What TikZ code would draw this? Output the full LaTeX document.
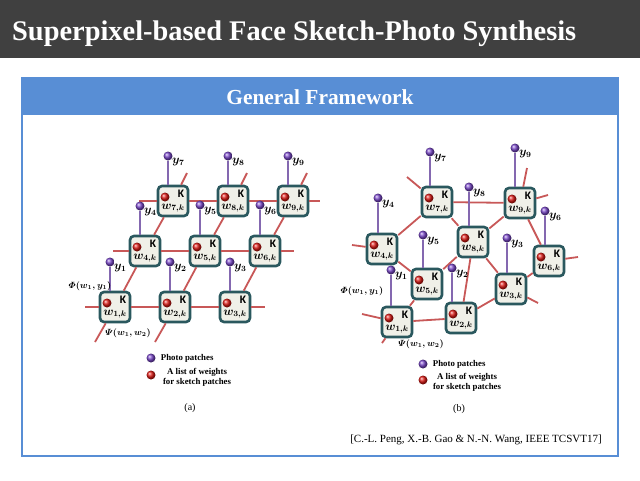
\documentclass[tikz,border=0pt]{standalone}
\usepackage{amsmath,amssymb}
\usepackage{fontspec}
\setmainfont{Liberation Serif}
\setsansfont{Carlito}
\usepackage{xcolor}
\usetikzlibrary{calc,positioning}
\definecolor{barc}{RGB}{64,64,64}
\definecolor{bluec}{RGB}{88,142,213}
\definecolor{boxc}{RGB}{42,88,94}
\definecolor{boxf}{RGB}{240,240,232}
\definecolor{redl}{RGB}{200,88,88}
\definecolor{purl}{RGB}{132,104,176}
\definecolor{purb}{RGB}{120,70,200}
\definecolor{redb}{RGB}{220,25,20}

\begin{document}
\begin{tikzpicture}[x=1pt,y=-1pt,
 rb/.style={circle,shade,ball color=redb,minimum size=9pt,inner sep=0pt},
 wbox/.style={draw=boxc,line width=2.6pt,fill=boxf,rounded corners=4pt,minimum size=30pt,inner sep=0pt,align=center,
  font=\fontsize{11.5}{12}\selectfont,label={[rb,xshift=-8pt,yshift=4pt]center:{}}},
 link/.style={draw=redl,line width=1.8pt},
 pinl/.style={draw=purl,line width=2pt},
 pb/.style={circle,shade,ball color=purb,minimum size=9pt,inner sep=0pt},
 lab/.style={inner sep=0.5pt,font=\fontsize{12}{13}\selectfont},
 fn/.style={inner sep=0pt,font=\fontsize{9}{10}\selectfont},
 leg/.style={inner sep=0pt,align=center,font=\fontsize{8.8}{10}\selectfont\bfseries}]
\fill[white](0,0)rectangle(640,480);
\useasboundingbox(0,0)rectangle(640,480);
% header and panel
\fill[barc](0,0)rectangle(640,58);
\node[anchor=base west,inner sep=0pt,text=white,font=\fontsize{28.4}{30}\selectfont\bfseries](title)at(12,40){Superpixel-based Face Sketch-Photo Synthesis};
\fill[bluec](22,78)rectangle(618,115);\draw[bluec,line width=1.5pt](22,78)rectangle(618,456);
\node[text=white,font=\fontsize{21.4}{23}\selectfont\bfseries](gf)at(320,97){General Framework};
% (a) grid
\node[wbox](a1)at(115,307){\hspace*{16pt}\textsf{\bfseries K}\\$\boldsymbol{w_{1,k}}$};
\node[wbox](a2)at(175,307){\hspace*{16pt}\textsf{\bfseries K}\\$\boldsymbol{w_{2,k}}$};
\node[wbox](a3)at(235,307){\hspace*{16pt}\textsf{\bfseries K}\\$\boldsymbol{w_{3,k}}$};
\node[wbox](a4)at(145,251){\hspace*{16pt}\textsf{\bfseries K}\\$\boldsymbol{w_{4,k}}$};
\node[wbox](a5)at(205,251){\hspace*{16pt}\textsf{\bfseries K}\\$\boldsymbol{w_{5,k}}$};
\node[wbox](a6)at(265,251){\hspace*{16pt}\textsf{\bfseries K}\\$\boldsymbol{w_{6,k}}$};
\node[wbox](a7)at(173,201){\hspace*{16pt}\textsf{\bfseries K}\\$\boldsymbol{w_{7,k}}$};
\node[wbox](a8)at(233,201){\hspace*{16pt}\textsf{\bfseries K}\\$\boldsymbol{w_{8,k}}$};
\node[wbox](a9)at(293,201){\hspace*{16pt}\textsf{\bfseries K}\\$\boldsymbol{w_{9,k}}$};
\coordinate(ar1s)at(85,307);\coordinate(ar1e)at(265,307);
\coordinate(ar2s)at(113,251);\coordinate(ar2e)at(294,251);
\coordinate(ar3s)at(139,201);\coordinate(ar3e)at(320,201);
\coordinate(ac1s)at(95,342);\coordinate(ac1e)at(187,173);
\coordinate(ac2s)at(155,342);\coordinate(ac2e)at(247,173);
\coordinate(ac3e)at(307,173);
\draw[link](ar1s)--(a1)--(a2)--(a3)--(ar1e);
\draw[link](ar2s)--(a4)--(a5)--(a6)--(ar2e);
\draw[link](ar3s)--(a7)--(a8)--(a9)--(ar3e);
\draw[link](ac1s)--(a1)--(a4)--(a7)--(ac1e);
\draw[link](ac2s)--(a2)--(a5)--(a8)--(ac2e);
\draw[link](a3)--(a6)--(a9)--(ac3e);
% (a) photo patches
\node[pb](p1)at(110,262){};\node[pb](p2)at(170,262){};\node[pb](p3)at(230,262){};
\node[pb](p4)at(140,206){};\node[pb](p5)at(200,205){};\node[pb](p6)at(260,205){};
\node[pb](p7)at(168,156){};\node[pb](p8)at(228,156){};\node[pb](p9)at(288,156){};
\draw[pinl](p1)--(p1|-a1.north);\draw[pinl](p2)--(p2|-a2.north);\draw[pinl](p3)--(p3|-a3.north);
\draw[pinl](p4)--(p4|-a4.north);\draw[pinl](p5)--(p5|-a5.north);\draw[pinl](p6)--(p6|-a6.north);
\draw[pinl](p7)--(p7|-a7.north);\draw[pinl](p8)--(p8|-a8.north);\draw[pinl](p9)--(p9|-a9.north);
\node[lab,below right=-2pt and 0pt of p1](ly1){$\boldsymbol{y_1}$};\node[lab,below right=-2pt and 0pt of p2](ly2){$\boldsymbol{y_2}$};
\node[lab,below right=-2pt and 0pt of p3](ly3){$\boldsymbol{y_3}$};\node[lab,below right=-2pt and 0pt of p4](ly4){$\boldsymbol{y_4}$};
\node[lab,below right=-2pt and 0pt of p5](ly5){$\boldsymbol{y_5}$};\node[lab,below right=-2pt and 0pt of p6](ly6){$\boldsymbol{y_6}$};
\node[lab,below right=-2pt and 0pt of p7](ly7){$\boldsymbol{y_7}$};\node[lab,below right=-2pt and 0pt of p8](ly8){$\boldsymbol{y_8}$};
\node[lab,below right=-2pt and 0pt of p9](ly9){$\boldsymbol{y_9}$};
\node[fn](aphi)at(90,286){$\boldsymbol{\varPhi(w_1,y_1)}$};
\node[fn](apsi)at(128,333){$\boldsymbol{\varPsi(w_1,w_2)}$};
% (b) graph
\node[wbox](b1)at(397,322){\hspace*{16pt}\textsf{\bfseries K}\\$\boldsymbol{w_{1,k}}$};
\node[wbox](b2)at(461,318){\hspace*{16pt}\textsf{\bfseries K}\\$\boldsymbol{w_{2,k}}$};
\node[wbox](b3)at(511,289){\hspace*{16pt}\textsf{\bfseries K}\\$\boldsymbol{w_{3,k}}$};
\node[wbox](b4)at(382,249){\hspace*{16pt}\textsf{\bfseries K}\\$\boldsymbol{w_{4,k}}$};
\node[wbox](b5)at(427,284){\hspace*{16pt}\textsf{\bfseries K}\\$\boldsymbol{w_{5,k}}$};
\node[wbox](b6)at(549,261){\hspace*{16pt}\textsf{\bfseries K}\\$\boldsymbol{w_{6,k}}$};
\node[wbox](b7)at(437,202){\hspace*{16pt}\textsf{\bfseries K}\\$\boldsymbol{w_{7,k}}$};
\node[wbox](b8)at(473,242){\hspace*{16pt}\textsf{\bfseries K}\\$\boldsymbol{w_{8,k}}$};
\node[wbox](b9)at(520,203){\hspace*{16pt}\textsf{\bfseries K}\\$\boldsymbol{w_{9,k}}$};
\coordinate(bx1)at(362,314);\coordinate(bx2)at(382,343);\coordinate(bx3)at(352,245);
\coordinate(bx4)at(407,177);\coordinate(bx5)at(538,303);\coordinate(bx6)at(578,257);
\coordinate(bx7)at(548,195);\coordinate(bx8)at(527,168);
\draw[link](bx1)--(b1)--(b2)--(b3)--(b6)--(bx6);
\draw[link](bx2)--(b1)--(b5)--(b4)--(bx3);
\draw[link](b4)--(b7)--(bx4);\draw[link](b5)--(b8)--(b7)--(b9)--(b8)--(b2);
\draw[link](b8)--(b3)--(bx5);\draw[link](b6)--(b9)--(bx7);\draw[link](b9)--(bx8);
% (b) photo patches
\node[pb](q1)at(391,270){};\node[pb](q2)at(452,268){};\node[pb](q3)at(507,238){};
\node[pb](q4)at(378,198){};\node[pb](q5)at(423,235){};\node[pb](q6)at(545,211){};
\node[pb](q7)at(430,152){};\node[pb](q8)at(469,187){};\node[pb](q9)at(515,148){};
\draw[pinl](q1)--(q1|-b1.north);\draw[pinl](q2)--(q2|-b2.north);\draw[pinl](q3)--(q3|-b3.north);
\draw[pinl](q4)--(q4|-b4.north);\draw[pinl](q5)--(q5|-b5.north);\draw[pinl](q6)--(q6|-b6.north);
\draw[pinl](q7)--(q7|-b7.north);\draw[pinl](q8)--(q8|-b8.north);\draw[pinl](q9)--(q9|-b9.north);
\node[lab,below right=-2pt and 0pt of q1](my1){$\boldsymbol{y_1}$};\node[lab,below right=-2pt and 0pt of q2](my2){$\boldsymbol{y_2}$};
\node[lab,below right=-2pt and 0pt of q3](my3){$\boldsymbol{y_3}$};\node[lab,below right=-2pt and 0pt of q4](my4){$\boldsymbol{y_4}$};
\node[lab,below right=-2pt and 0pt of q5](my5){$\boldsymbol{y_5}$};\node[lab,below right=-2pt and 0pt of q6](my6){$\boldsymbol{y_6}$};
\node[lab,below right=-2pt and 0pt of q7](my7){$\boldsymbol{y_7}$};\node[lab,below right=-2pt and 0pt of q8](my8){$\boldsymbol{y_8}$};
\node[lab,below right=-2pt and 0pt of q9](my9){$\boldsymbol{y_9}$};
\node[fn](bphi)at(362,291){$\boldsymbol{\varPhi(w_1,y_1)}$};
\node[fn](bpsi)at(421,344){$\boldsymbol{\varPsi(w_1,w_2)}$};
% legends
\node[pb](la1)at(151,358){};\node[leg,right=5pt of la1](lt1){Photo patches};
\node[rb](la2)at(151,375){};\node[leg](lt2)at(197,377){A list of weights\\for sketch patches};
\node[font=\fontsize{10}{11}\selectfont](capa)at(190,408){(a)};
\node[pb](lb1)at(423,364){};\node[leg,right=5pt of lb1](mt1){Photo patches};
\node[rb](lb2)at(423,380){};\node[leg](mt2)at(467,382){A list of weights\\for sketch patches};
\node[font=\fontsize{10}{11}\selectfont](capb)at(459,409){(b)};
\node[font=\fontsize{11}{12}\selectfont](cite)at(476,440){[C.-L. Peng, X.-B. Gao \& N.-N. Wang, IEEE TCSVT17]};
\end{tikzpicture}
\end{document}
